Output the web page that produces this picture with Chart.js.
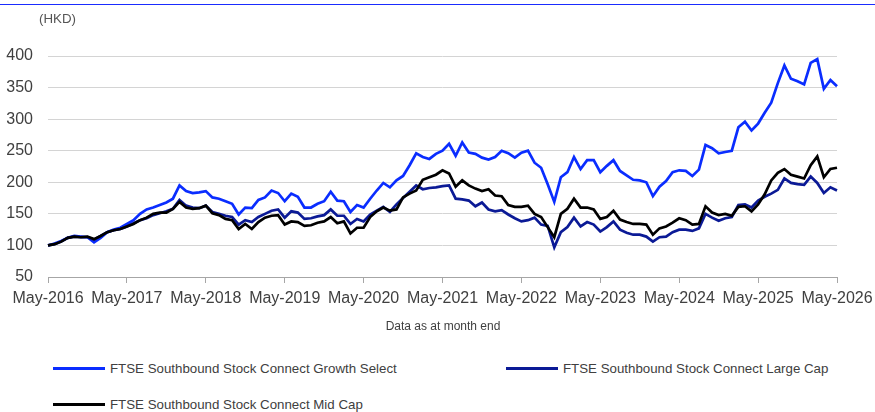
<!DOCTYPE html>
<html>
<head>
<meta charset="utf-8">
<script src="https://cdn.jsdelivr.net/npm/chart.js@4"></script>
<style>
    body { margin: 0; background: #fff; font-family: 'Liberation Sans', Arial, sans-serif; }
    .wrap { position: relative; width: 875px; height: 412px; overflow: hidden; }
    .topline { position: absolute; left: 0; top: 4px; width: 875px; height: 1px; background: #1a2cff; }
    .unit { position: absolute; left: 39px; top: 11px; font-size: 13.3px; color: #555; }
    .note { position: absolute; left: 0; width: 886px; top: 319px; text-align: center; font-size: 12px; color: #404040; }
    .legend-item { position: absolute; font-size: 13.3px; color: #404040; white-space: nowrap; line-height: 16px; }
    .legend-item .swatch { position: absolute; top: 6px; width: 52px; height: 3px; }
    canvas { position: absolute; left: 0; top: 0; }
</style>
</head>
<body>
<div class="wrap">
    <div class="topline"></div>
    <canvas id="indexChart" width="875" height="320"></canvas>
    <div class="unit">(HKD)</div>
    <div class="note">Data as at month end</div>
    <div id="legend"></div>
</div>
<script>
// Monthly index levels, rebased to 100 at May-2016
const growthSelect = [
    100, 103, 107, 112, 115, 114, 113, 105, 112, 121, 125, 128, 134, 140, 150, 157, 160, 164, 168, 174,
    195, 186, 183, 184, 186, 176, 174, 170, 166, 149, 160, 159, 172, 176, 187, 183, 170, 182, 177, 160,
    160, 166, 170, 185, 171, 170, 153, 164, 160, 174, 187, 199, 192, 203, 210, 227, 246, 240, 237, 245,
    250, 261, 242, 263, 247, 245, 239, 236, 240, 250, 246, 239, 247, 250, 231, 223, 197, 169, 208, 216,
    240, 221, 235, 235, 216, 226, 235, 218, 211, 204, 203, 200, 178, 193, 202, 216, 219, 218, 210, 220,
    259, 254, 246, 248, 250, 287, 296, 282, 293, 310, 326, 357, 385, 364, 360, 355, 389, 395, 348, 362,
    352
];
const largeCap = [
    100, 102, 106, 112, 114, 113, 113, 109, 115, 121, 124, 126, 130, 135, 140, 143, 148, 151, 154, 158,
    172, 163, 160, 159, 163, 153, 150, 147, 145, 133, 140, 137, 145, 150, 155, 157, 144, 154, 152, 142,
    143, 146, 148, 157, 147, 147, 134, 142, 138, 149, 155, 161, 153, 165, 175, 185, 195, 189, 191, 192,
    194, 195, 174, 173, 171, 162, 168, 157, 154, 156, 149, 143, 138, 140, 144, 133, 131, 97, 121, 129,
    144, 130, 137, 133, 122, 129, 138, 125, 120, 117, 117, 114, 106, 113, 114, 121, 125, 125, 123, 127,
    150, 144, 139, 143, 145, 164, 165, 160, 171, 177, 182, 188, 206, 199, 197, 196, 209, 199, 183, 192,
    187
];
const midCap = [
    100, 102, 106, 112, 114, 113, 114, 110, 115, 121, 124, 126, 130, 134, 140, 144, 150, 152, 152, 158,
    169, 160, 158, 159, 163, 151, 148, 142, 140, 126, 134, 126, 137, 144, 147, 148, 133, 138, 137, 131,
    132, 136, 138, 145, 135, 138, 119, 128, 128, 145, 154, 160, 155, 157, 176, 182, 187, 204, 208, 212,
    219, 214, 193, 203, 195, 190, 186, 189, 179, 178, 164, 161, 161, 163, 150, 145, 129, 113, 150, 158,
    174, 160, 160, 157, 142, 145, 155, 141, 137, 134, 134, 133, 117, 127, 130, 136, 143, 140, 133, 134,
    162, 152, 148, 150, 147, 161, 162, 154, 165, 181, 203, 215, 221, 212, 209, 206, 227, 241, 208, 221,
    223
];

const seriesNames = [
    'FTSE Southbound Stock Connect Growth Select',
    'FTSE Southbound Stock Connect Large Cap',
    'FTSE Southbound Stock Connect Mid Cap'
];
const seriesColors = ['#0a2dff', '#0b1a96', '#000000'];

const monthNames = ['Jan', 'Feb', 'Mar', 'Apr', 'May', 'Jun', 'Jul', 'Aug', 'Sep', 'Oct', 'Nov', 'Dec'];
const startYear = 2016, startMonth = 4; // May-2016
const yTicks = { min: 50, max: 400, step: 50 };

// Month-end category labels
const months = growthSelect.map((v, i) => {
    const m = (startMonth + i) % 12;
    const y = startYear + Math.floor((startMonth + i) / 12);
    return monthNames[m] + '-' + y;
});

document.addEventListener('DOMContentLoaded', function() {
    const font = { family: "'Liberation Sans', Arial, sans-serif", size: 16 };
    const allSeries = [growthSelect, largeCap, midCap];

    const ctx = document.getElementById('indexChart').getContext('2d');
    new Chart(ctx, {
        type: 'line',
        data: {
            labels: months,
            datasets: allSeries.map((data, i) => ({
                label: seriesNames[i],
                data: data,
                borderColor: seriesColors[i],
                backgroundColor: seriesColors[i],
                borderWidth: 2.7,
                pointRadius: 0,
                tension: 0,
                fill: false,
                order: 2 - i // mid cap drawn on top
            }))
        },
        options: {
            responsive: false,
            devicePixelRatio: 1,
            animation: false,
            layout: { padding: { top: 56, right: 38, left: 0, bottom: 0 } },
            plugins: {
                legend: { display: false },
                tooltip: { enabled: false }
            },
            scales: {
                x: {
                    grid: {
                        drawOnChartArea: false,
                        drawTicks: true,
                        tickLength: 6,
                        color: '#a6a6a6'
                    },
                    border: { display: true, color: '#a6a6a6' },
                    ticks: {
                        autoSkip: false,
                        maxRotation: 0,
                        padding: 6,
                        color: '#404040',
                        font: font,
                        callback: function(value, index) {
                            return index % 12 === 0 ? months[index] : null;
                        }
                    },
                    afterFit: function(scale) {
                        scale.height = 43;
                        // the end labels may hang over the edges, like the source
                        scale.paddingLeft = 0;
                        scale.paddingRight = 0;
                    }
                },
                y: {
                    min: yTicks.min,
                    max: yTicks.max,
                    grid: { color: '#d4d4d4', drawTicks: false },
                    border: { display: false },
                    ticks: {
                        stepSize: yTicks.step,
                        padding: 15,
                        color: '#404040',
                        font: font
                    },
                    afterFit: function(scale) { scale.width = 48; }
                }
            }
        }
    });

    // Legend laid out in two columns like the source
    const legendPos = [
        { left: 53, top: 361 },
        { left: 506, top: 361 },
        { left: 53, top: 397 }
    ];
    const legend = document.getElementById('legend');
    seriesNames.forEach((name, i) => {
        const item = document.createElement('div');
        item.className = 'legend-item';
        item.style.left = legendPos[i].left + 'px';
        item.style.top = legendPos[i].top + 'px';
        item.style.paddingLeft = '57px';
        const sw = document.createElement('span');
        sw.className = 'swatch';
        sw.style.left = '0px';
        sw.style.background = seriesColors[i];
        item.appendChild(sw);
        item.appendChild(document.createTextNode(name));
        legend.appendChild(item);
    });
});
</script>
</body>
</html>
